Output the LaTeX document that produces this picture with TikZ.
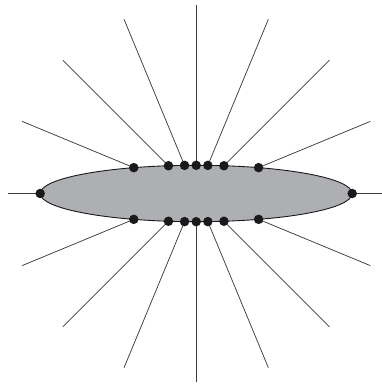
\documentclass[tikz,border=0pt]{standalone}
\usepackage{tikz}
\definecolor{cShade}{HTML}{AEAFB3}
\definecolor{cInk}{HTML}{1A1A1A}
\begin{document}
\begin{tikzpicture}[x=1pt, y=1pt,
  ray/.style={draw=cInk!85, line width=0.75pt},
  spot/.style={circle, fill=cInk, inner sep=0pt, minimum size=9.5pt}]
  \useasboundingbox (-196.2,-191.5) rectangle (185.8,193.5);
  \coordinate (c) at (0,0);
  % points where the rays meet the ellipse
  \foreach \i in {0,...,15} {
    \pgfmathsetmacro{\ang}{22.5*\i}
    \pgfmathsetmacro{\rad}{100*1.56*0.282/sqrt((0.282*cos(\ang))^2+(1.56*sin(\ang))^2)}
    \coordinate (e\i) at (\ang:\rad);
    \coordinate (o\i) at (\ang:188.5);
  }
  % rays
  \foreach \i in {0,...,15}
    \draw[ray] (e\i) -- (o\i);
  % ellipse
  \draw[fill=cShade, line width=0.9pt, draw=cInk] (c) ellipse [x radius=156, y radius=28.2];
  % dots
  \foreach \i in {0,...,15}
    \node[spot] (d\i) at (e\i) {};
\end{tikzpicture}
\end{document}
